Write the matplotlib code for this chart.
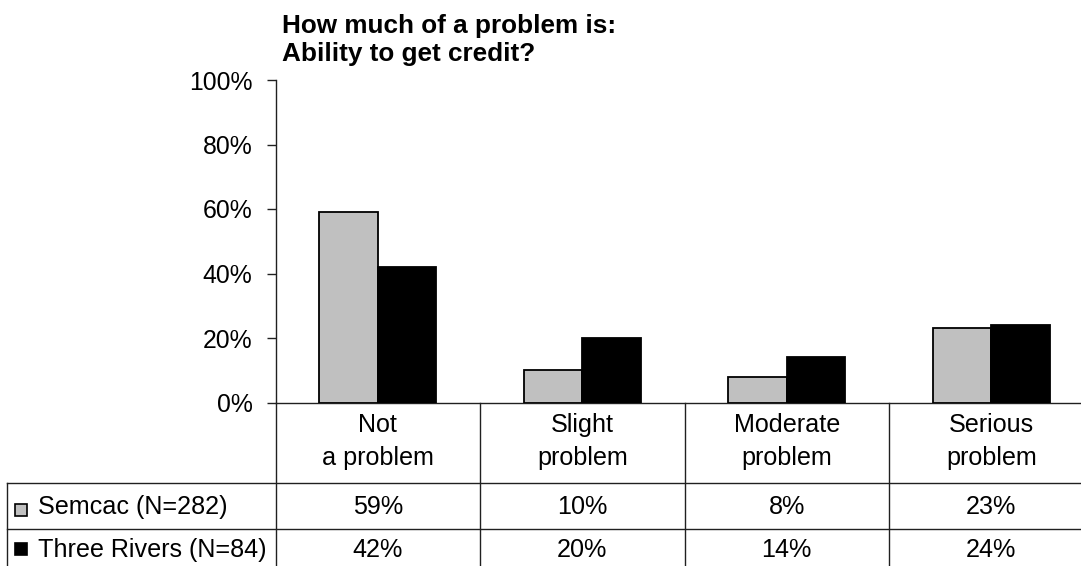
import matplotlib
matplotlib.use("Agg")
import matplotlib.pyplot as plt
from matplotlib.patches import Rectangle
from matplotlib.transforms import blended_transform_factory
import numpy as np

# --- data -------------------------------------------------------------
title_lines = ["How much of a problem is:", "Ability to get credit?"]
categories = ["Not\na problem", "Slight\nproblem", "Moderate\nproblem", "Serious\nproblem"]
series_names = ["Semcac (N=282)", "Three Rivers (N=84)"]
semcac = [59, 10, 8, 23]
three_rivers = [42, 20, 14, 24]
y_ticks = [0, 20, 40, 60, 80, 100]

series_values = [semcac, three_rivers]
series_colors = ["#C0C0C0", "#000000"]

# --- figure geometry (pixel based) -----------------------------------
W, H = 1081, 566
DPI = 100
plt.rcParams["font.family"] = ["Liberation Sans", "DejaVu Sans"]
FS = 18.1
FS_TICK = 17.8
FS_TITLE = 18.8

fig = plt.figure(figsize=(W / DPI, H / DPI), dpi=DPI)


def fx(px):
    return px / W


def fy(py):
    return 1 - py / H


ax_left, ax_bottom, ax_top = 275.5, 402.5, 80.0
col_w = 204.5
ax = fig.add_axes([fx(ax_left), fy(ax_bottom), 4 * col_w / W, (ax_bottom - ax_top) / H])

n = len(categories)
x = np.arange(n)
bar_w = 0.286
for k, (vals, col) in enumerate(zip(series_values, series_colors)):
    offs = (k - 0.5) * bar_w
    ax.bar(x + offs, vals, width=bar_w, color=col, edgecolor="black",
           linewidth=1.3, zorder=3)

ax.set_xlim(-0.5, n - 0.5)
ax.set_ylim(0, 100)
ax.set_yticks(y_ticks)
ax.set_yticklabels([f"{v}%" for v in y_ticks], fontsize=FS_TICK)
ax.set_xticks([])
ax.tick_params(axis="y", direction="out", length=6.5, width=1.0, pad=10,
               color="#202020")
for s in ("top", "right"):
    ax.spines[s].set_visible(False)
for s in ("left", "bottom"):
    ax.spines[s].set_linewidth(1.0)
    ax.spines[s].set_color("#202020")

# --- title ------------------------------------------------------------
fig.text(fx(282), fy(33), title_lines[0], fontsize=FS_TITLE, fontweight="bold",
         va="baseline", ha="left")
fig.text(fx(282), fy(61), title_lines[1], fontsize=FS_TITLE, fontweight="bold",
         va="baseline", ha="left")

# --- data table below the chart ---------------------------------------
trans = blended_transform_factory(ax.transData, fig.transFigure)
line_kw = dict(color="#202020", linewidth=1.0, clip_on=False)

# vertical column dividers
for b in np.arange(-0.5, n, 1.0):
    ax.plot([b, b], [fy(ax_bottom), fy(H + 2)], transform=trans, **line_kw)

# horizontal row lines and left border
row_lines = [482.7, 529.0]
for ry in row_lines:
    fig.add_artist(plt.Line2D([fx(7.3), 1.0], [fy(ry), fy(ry)],
                              transform=fig.transFigure, **line_kw))
fig.add_artist(plt.Line2D([fx(7.3), fx(7.3)], [fy(row_lines[0]), fy(H + 2)],
                          transform=fig.transFigure, **line_kw))

# category header text
header_baselines = [432, 465]
for i, cat in enumerate(categories):
    for line, by in zip(cat.split("\n"), header_baselines):
        ax.text(i, fy(by), line, transform=trans, ha="center", va="baseline",
                fontsize=FS, clip_on=False)

# series rows: legend key, name, values
row_baselines = [514, 557]
key_tops = [504, 543]
for name, vals, col, by, kt in zip(series_names, series_values, series_colors,
                                   row_baselines, key_tops):
    fig.add_artist(Rectangle((fx(15), fy(kt + 12)), 12 / W, 12 / H,
                             transform=fig.transFigure, facecolor=col,
                             edgecolor="black", linewidth=1.2))
    fig.text(fx(38.5), fy(by), name, fontsize=FS, va="baseline", ha="left")
    for i, v in enumerate(vals):
        ax.text(i, fy(by), f"{v}%", transform=trans, ha="center",
                va="baseline", fontsize=FS, clip_on=False)

fig.savefig("out.png", dpi=DPI, facecolor="white")
